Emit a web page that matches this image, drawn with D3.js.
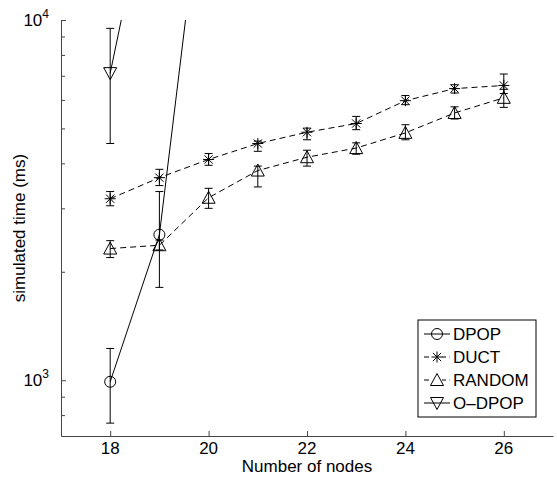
<!DOCTYPE html>
<html>
<head>
<meta charset="utf-8">
<script src="https://cdn.jsdelivr.net/npm/d3@7"></script>
<style>
  body { margin: 0; background: #fff; }
  text { font-family: "Liberation Sans", Arial, sans-serif; fill: #000; }
</style>
</head>
<body>
<div id="chart"></div>
<script>
// Data (log y axis, ms)
var nodes = [18, 19, 20, 21, 22, 23, 24, 25, 26];

var dpopX = [18, 19, 20];
var dpopMean = [990, 2535, 33600];
var dpopLow = [760, 1810, 33600];
var dpopHigh = [1225, 3340, 33600];

var ductMean = [3190, 3650, 4100, 4540, 4880, 5160, 5970, 6450, 6580];
var ductLow = [3050, 3470, 3950, 4320, 4650, 4960, 5820, 6270, 6250];
var ductHigh = [3340, 3850, 4260, 4610, 5010, 5400, 6170, 6610, 7080];

var randomMean = [2320, 2370, 3210, 3820, 4160, 4410, 4860, 5520, 6080];
var randomLow = [2190, 2300, 3000, 3440, 3930, 4240, 4650, 5310, 5720];
var randomHigh = [2440, 2450, 3410, 3930, 4350, 4560, 5120, 5740, 6420];

var odpopX = [18, 19];
var odpopMean = [7120, 32200];
var odpopLow = [4540, 32200];
var odpopHigh = [9480, 32200];

var xTicks = [18, 20, 22, 24, 26];
var seriesNames = ["DPOP", "DUCT", "RANDOM", "O\u2013DPOP"];

// Chart size
var svgWidth = 557;
var svgHeight = 477;
var margin = { top: 20, right: 4, bottom: 41, left: 61 };
var width = svgWidth - margin.left - margin.right;
var height = svgHeight - margin.top - margin.bottom;

var svg = d3.select("#chart").append("svg")
    .attr("width", svgWidth)
    .attr("height", svgHeight);

var chartGroup = svg.append("g")
    .attr("transform", `translate(${margin.left}, ${margin.top})`);

var xScale = d3.scaleLinear().domain([17, 27]).range([0, width]);
var yScale = d3.scaleLog().domain([700, 10000]).range([height, 0]);

// clip for lines that leave the top
chartGroup.append("clipPath").attr("id", "plotClip")
    .append("rect").attr("x", 0).attr("y", 0).attr("width", width).attr("height", height);

// Axes (ticks inward)
var bottomAxis = d3.axisBottom(xScale).tickValues(xTicks).tickSizeInner(-5).tickSizeOuter(0).tickFormat("");
var xAxis = chartGroup.append("g")
    .attr("transform", `translate(0, ${height})`)
    .call(bottomAxis);

var yTickVals = [800, 900, 1000, 2000, 3000, 4000, 5000, 6000, 7000, 8000, 9000, 10000];
var leftAxis = d3.axisLeft(yScale).tickValues(yTickVals).tickSizeInner(-5).tickSizeOuter(0).tickFormat("");
var yAxis = chartGroup.append("g").call(leftAxis);
yAxis.selectAll(".tick line").attr("x2", d => (d === 1000 || d === 10000) ? 5 : 4);

[xAxis, yAxis].forEach(function(a) {
    a.select(".domain").attr("stroke", "#444");
    a.selectAll(".tick line").attr("stroke", "#444");
});

// x tick labels
chartGroup.selectAll(".xlab").data(xTicks).enter().append("text")
    .attr("x", d => xScale(d))
    .attr("y", height + 18)
    .attr("text-anchor", "middle")
    .style("font-size", "17px")
    .text(d => d);

// y decade labels
[1000, 10000].forEach(function(v) {
    var t = chartGroup.append("text")
        .attr("x", -12)
        .attr("y", yScale(v) + 6)
        .attr("text-anchor", "end")
        .style("font-size", "17px");
    t.append("tspan").text("10");
    t.append("tspan").attr("dy", -8).style("font-size", "12px").text(Math.log10(v));
});

// axis titles
chartGroup.append("text")
    .attr("x", xScale(22))
    .attr("y", height + 36)
    .attr("text-anchor", "middle")
    .style("font-size", "17px")
    .text("Number of nodes");

chartGroup.append("text")
    .attr("transform", "rotate(-90)")
    .attr("x", -(yScale(2645)))
    .attr("y", -36)
    .attr("text-anchor", "middle")
    .style("font-size", "17px")
    .text("simulated time (ms)");

// marker drawing
function drawMarker(g, type, cx, cy) {
    var s = 5.5;
    if (type === "circle") {
        g.append("circle").attr("cx", cx).attr("cy", cy).attr("r", s)
            .attr("fill", "none").attr("stroke", "#000");
    } else if (type === "star") {
        var p = d3.path();
        p.moveTo(cx - s, cy); p.lineTo(cx + s, cy);
        p.moveTo(cx, cy - s); p.lineTo(cx, cy + s);
        var k = s * 0.75;
        p.moveTo(cx - k, cy - k); p.lineTo(cx + k, cy + k);
        p.moveTo(cx - k, cy + k); p.lineTo(cx + k, cy - k);
        g.append("path").attr("d", p.toString()).attr("stroke", "#000").attr("fill", "none");
    } else if (type === "up") {
        g.append("path")
            .attr("d", `M${cx},${cy - s - 1}L${cx + s + 1},${cy + s}L${cx - s - 1},${cy + s}Z`)
            .attr("fill", "none").attr("stroke", "#000");
    } else if (type === "down") {
        g.append("path")
            .attr("d", `M${cx},${cy + s + 1}L${cx + s + 1},${cy - s}L${cx - s - 1},${cy - s}Z`)
            .attr("fill", "none").attr("stroke", "#000");
    }
}

var series = [
    { name: seriesNames[0], x: dpopX, mean: dpopMean, low: dpopLow, high: dpopHigh, marker: "circle", dash: null },
    { name: seriesNames[1], x: nodes, mean: ductMean, low: ductLow, high: ductHigh, marker: "star", dash: "6,4" },
    { name: seriesNames[2], x: nodes, mean: randomMean, low: randomLow, high: randomHigh, marker: "up", dash: "6,4" },
    { name: seriesNames[3], x: odpopX, mean: odpopMean, low: odpopLow, high: odpopHigh, marker: "down", dash: null }
];

var line = d3.line().x(d => xScale(d.x)).y(d => yScale(d.y));
var plot = chartGroup.append("g").attr("clip-path", "url(#plotClip)");

series.forEach(function(s) {
    var pts = s.x.map((x, i) => ({ x: x, y: s.mean[i], lo: s.low[i], hi: s.high[i] }));
    var g = plot.append("g");
    g.append("path")
        .datum(pts)
        .attr("d", line)
        .attr("fill", "none")
        .attr("stroke", "#000")
        .attr("stroke-width", 1)
        .attr("stroke-dasharray", s.dash);
    pts.forEach(function(d) {
        if (d.hi === d.lo) return;
        var cx = xScale(d.x);
        var p = d3.path();
        p.moveTo(cx, yScale(d.lo)); p.lineTo(cx, yScale(d.hi));
        p.moveTo(cx - 4, yScale(d.lo)); p.lineTo(cx + 4, yScale(d.lo));
        p.moveTo(cx - 4, yScale(d.hi)); p.lineTo(cx + 4, yScale(d.hi));
        g.append("path").attr("d", p.toString()).attr("stroke", "#000").attr("fill", "none");
        drawMarker(g, s.marker, cx, yScale(d.y));
    });
});

// Legend
var legend = svg.append("g").attr("transform", "translate(418, 320)");
legend.append("rect").attr("width", 118).attr("height", 97)
    .attr("fill", "#fff").attr("stroke", "#000");
series.forEach(function(s, i) {
    var y = 14 + i * 23;
    legend.append("line").attr("x1", 6).attr("x2", 32).attr("y1", y).attr("y2", y)
        .attr("stroke", "#000").attr("stroke-dasharray", s.dash ? "5,3.5" : null);
    var mg = legend.append("g");
    if (s.dash) mg.append("rect").attr("x", 14).attr("y", y - 6).attr("width", 10).attr("height", 12).attr("fill", "#fff");
    drawMarker(mg, s.marker, 19, y);
    legend.append("text").attr("x", 35).attr("y", y + 6)
        .style("font-size", "17px").text(s.name);
});
</script>
</body>
</html>
